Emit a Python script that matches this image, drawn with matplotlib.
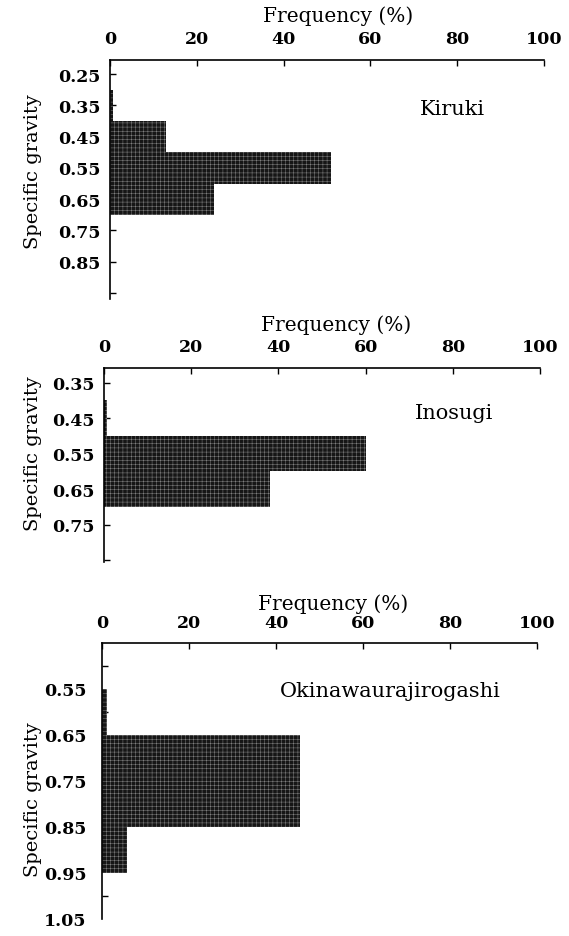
import matplotlib.pyplot as plt
import numpy as np

plt.rcParams['font.family'] = 'DejaVu Serif'
plt.rcParams['hatch.linewidth'] = 0.35

W, H = 569, 937

# frequency (%) per specific gravity class
kiruki_sg = [0.35, 0.45, 0.55, 0.65]
kiruki_freq = [0.7, 13, 51, 24]
kiruki_ticks = [0.25, 0.35, 0.45, 0.55, 0.65, 0.75, 0.85, 0.95]
kiruki_labels = ['0.25', '0.35', '0.45', '0.55', '0.65', '0.75', '0.85', '']

inosugi_sg = [0.45, 0.55, 0.65]
inosugi_freq = [0.8, 60, 38]
inosugi_ticks = [0.35, 0.45, 0.55, 0.65, 0.75, 0.85]
inosugi_labels = ['0.35', '0.45', '0.55', '0.65', '0.75', '']

# lower bound of each class
okinawa_sg = [0.55, 0.65, 0.75, 0.85]
okinawa_freq = [1.2, 45.6, 45.6, 5.7]
okinawa_ticks = [0.50, 0.60, 0.70, 0.80, 0.90, 1.00]
okinawa_labels = ['0.55', '0.65', '0.75', '0.85', '0.95', '1.05']

freq_ticks = [0, 20, 40, 60, 80, 100]


def fx(px):
    return px / W


def fy(py):
    return 1 - py / H


fig = plt.figure(figsize=(W / 100, H / 100), dpi=100)


def panel(box, ylim, sg, freq, align, name, name_xy, title_xy, ylab_y, ypad):
    left, top, right, bottom = box
    ax = fig.add_axes([fx(left), fy(bottom), fx(right - left), (bottom - top) / H])
    # dark fill with a fine light screen, no outline so adjacent classes merge
    ax.barh(sg, freq, height=0.1, align=align, color='#161616',
            edgecolor='#828282', hatch='++++', linewidth=0, zorder=2)
    ax.set_xlim(0, 100)
    ax.set_ylim(*ylim)
    for s in ['right', 'bottom']:
        ax.spines[s].set_visible(False)
    for s in ['top', 'left']:
        ax.spines[s].set_linewidth(1.2)
    ax.xaxis.tick_top()
    ax.set_xticks(freq_ticks)
    ax.set_xticklabels([str(t) for t in freq_ticks])
    ax.tick_params(axis='x', direction='in', length=4, width=1, pad=9,
                   labelsize=12.5)
    ax.tick_params(axis='y', direction='in', length=4, width=1, pad=ypad,
                   labelsize=12.5)
    for lab in ax.get_xticklabels() + ax.get_yticklabels():
        lab.set_fontweight('bold')
    fig.text(fx(title_xy[0]), fy(title_xy[1]), 'Frequency (%)', fontsize=14.5,
             ha='center', va='center')
    fig.text(fx(33), fy(ylab_y), 'Specific gravity', fontsize=14,
             rotation=90, ha='center', va='center')
    fig.text(fx(name_xy[0]), fy(name_xy[1]), name, fontsize=15,
             ha='left', va='baseline')
    return ax


ax1 = panel((110, 61, 544, 300), (0.969, 0.205), kiruki_sg, kiruki_freq,
            'center', 'Kiruki', (420, 115), (338, 16), 172, 7)
ax1.set_yticks(kiruki_ticks)
ax1.set_yticklabels(kiruki_labels, fontweight='bold')

ax2 = panel((104, 369, 540, 563), (0.855, 0.309), inosugi_sg, inosugi_freq,
            'center', 'Inosugi', (415, 419), (336, 325), 454, 7)
ax2.set_yticks(inosugi_ticks)
ax2.set_yticklabels(inosugi_labels, fontweight='bold')

ax3 = panel((102, 644, 537, 920), (1.05, 0.45), okinawa_sg, okinawa_freq,
            'edge', 'Okinawaurajirogashi', (280, 697), (333, 604), 800, 11)
ax3.set_yticks(okinawa_ticks)
ax3.set_yticklabels([])
ax3.set_yticks(okinawa_sg + [0.95, 1.05], minor=True)
ax3.set_yticklabels(okinawa_labels, minor=True, fontweight='bold', fontsize=12.5)
ax3.tick_params(axis='y', which='minor', length=0, pad=11)

fig.savefig('out.png', dpi=100)
